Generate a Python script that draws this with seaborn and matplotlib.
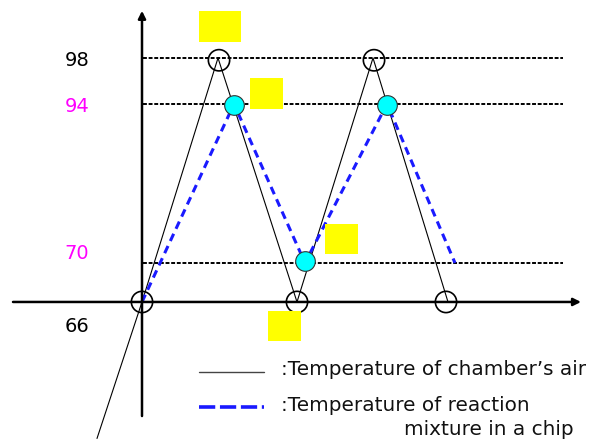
"""
Temperature profile of chamber air vs reaction mixture (schematic).
"""

import numpy as np
import pandas as pd
import matplotlib
matplotlib.use("Agg")
import matplotlib.pyplot as plt
from matplotlib.patches import Rectangle
import seaborn as sns

# Data (time in arbitrary units, temperature in °C)
air_time = [-4.5, 0.0, 7.6, 15.5, 23.1, 30.6]
air_temp = [52, 66, 98, 66, 98, 66]
air_mark_time = [0.0, 7.7, 15.5, 23.2, 30.4]
air_mark_temp = [66, 97.8, 66, 97.8, 66]

chip_time = [0.0, 9.2, 16.3, 24.5, 31.3]
chip_temp = [66, 94, 70, 94, 70]
chip_mark_time = [9.2, 16.3, 24.5]
chip_mark_temp = [93.8, 70.3, 93.8]

levels = [98, 94, 70]
tick_labels = ["98", "94", "70", "66"]
tick_values = [98, 94, 70, 66]
tick_colors = ["black", "#ff00ff", "#ff00ff", "black"]

legend_air = ":Temperature of chamber\u2019s air"
legend_chip = ":Temperature of reaction"
legend_chip2 = "mixture in a chip"

# schematic (non linear) temperature axis
T_KNOTS = [40, 66, 70, 94, 98, 130]
H_KNOTS = [-114.5, 139, 178, 337, 383, 751]


def fwd(t):
    return np.interp(t, T_KNOTS, H_KNOTS)


def inv(h):
    return np.interp(h, H_KNOTS, T_KNOTS)


sns.set_style("white")
plt.rcParams["font.family"] = ["DejaVu Sans"]

fig = plt.figure(figsize=(5.96, 4.41), dpi=100)
ax = fig.add_axes([0, 0, 1, 1])
ax.set_yscale("function", functions=(fwd, inv))
ax.set_xlim(-14.2, 45.4)
ax.set_ylim(51.74, 103.04)
ax.axis("off")

# dotted reference levels
for lv in levels:
    ax.plot([0.1, 42.1], [lv, lv], color="black", lw=1.4,
            linestyle=(0, (2, 0.9)), zorder=1)

# axes arrows
ax.annotate("", xy=(43.9, 66), xytext=(-12.9, 66),
            arrowprops=dict(arrowstyle="-|>", lw=1.8, color="black",
                            mutation_scale=11, shrinkA=0, shrinkB=0))
ax.annotate("", xy=(0, 102.1), xytext=(0, 54.3),
            arrowprops=dict(arrowstyle="-|>", lw=1.8, color="black",
                            mutation_scale=11, shrinkA=0, shrinkB=0))

df_air = pd.DataFrame({"t": air_time, "T": air_temp})
df_chip = pd.DataFrame({"t": chip_time, "T": chip_temp})

sns.lineplot(data=df_air, x="t", y="T", sort=False, estimator=None,
             color="black", lw=0.8, ax=ax, zorder=2)
sns.lineplot(data=df_chip, x="t", y="T", sort=False, estimator=None,
             color="#1a1aff", lw=2.2, linestyle=(0, (2.6, 1.8)), ax=ax, zorder=2)

sns.scatterplot(x=air_mark_time, y=air_mark_temp, s=235, marker="o",
                facecolor="none", edgecolor="black", linewidth=1.2, ax=ax, zorder=4)
sns.scatterplot(x=chip_mark_time, y=chip_mark_temp, s=200, marker="o",
                facecolor="#00ffff", edgecolor="#333333", linewidth=0.8, ax=ax, zorder=5)

# temperature labels
offsets = [-2, -2, 6.5, -18]
for lab, val, col, dy in zip(tick_labels, tick_values, tick_colors, offsets):
    ax.annotate(lab, xy=(-6.5, val), xytext=(0, dy), textcoords="offset points",
                ha="center", va="center", fontsize=14, color=col)

# yellow placeholder boxes
for x0, y0, w, h in [(0.334, 0.905, 0.0705, 0.070), (0.4195, 0.753, 0.0554, 0.070),
                     (0.5453, 0.424, 0.0554, 0.068), (0.4497, 0.227, 0.0554, 0.068)]:
    ax.add_patch(Rectangle((x0, y0), w, h, transform=ax.transAxes,
                           facecolor="#ffff00", edgecolor="none", zorder=6))

# hand-made legend
ax.plot([0.334, 0.443], [0.1565, 0.1565], transform=ax.transAxes,
        color="#444444", lw=1.0)
ax.plot([0.334, 0.443], [0.0771, 0.0771], transform=ax.transAxes,
        color="#1a1aff", lw=2.6, linestyle=(0, (4.5, 1.3)))
ax.text(0.472, 0.163, legend_air, transform=ax.transAxes, fontsize=14.4,
        va="center", ha="left", color="#111111")
ax.text(0.472, 0.0816, legend_chip, transform=ax.transAxes, fontsize=14.4,
        va="center", ha="left", color="#111111")
ax.text(0.678, 0.025, legend_chip2, transform=ax.transAxes, fontsize=14.4,
        va="center", ha="left", color="#111111")

fig.savefig("out.png", dpi=100)
